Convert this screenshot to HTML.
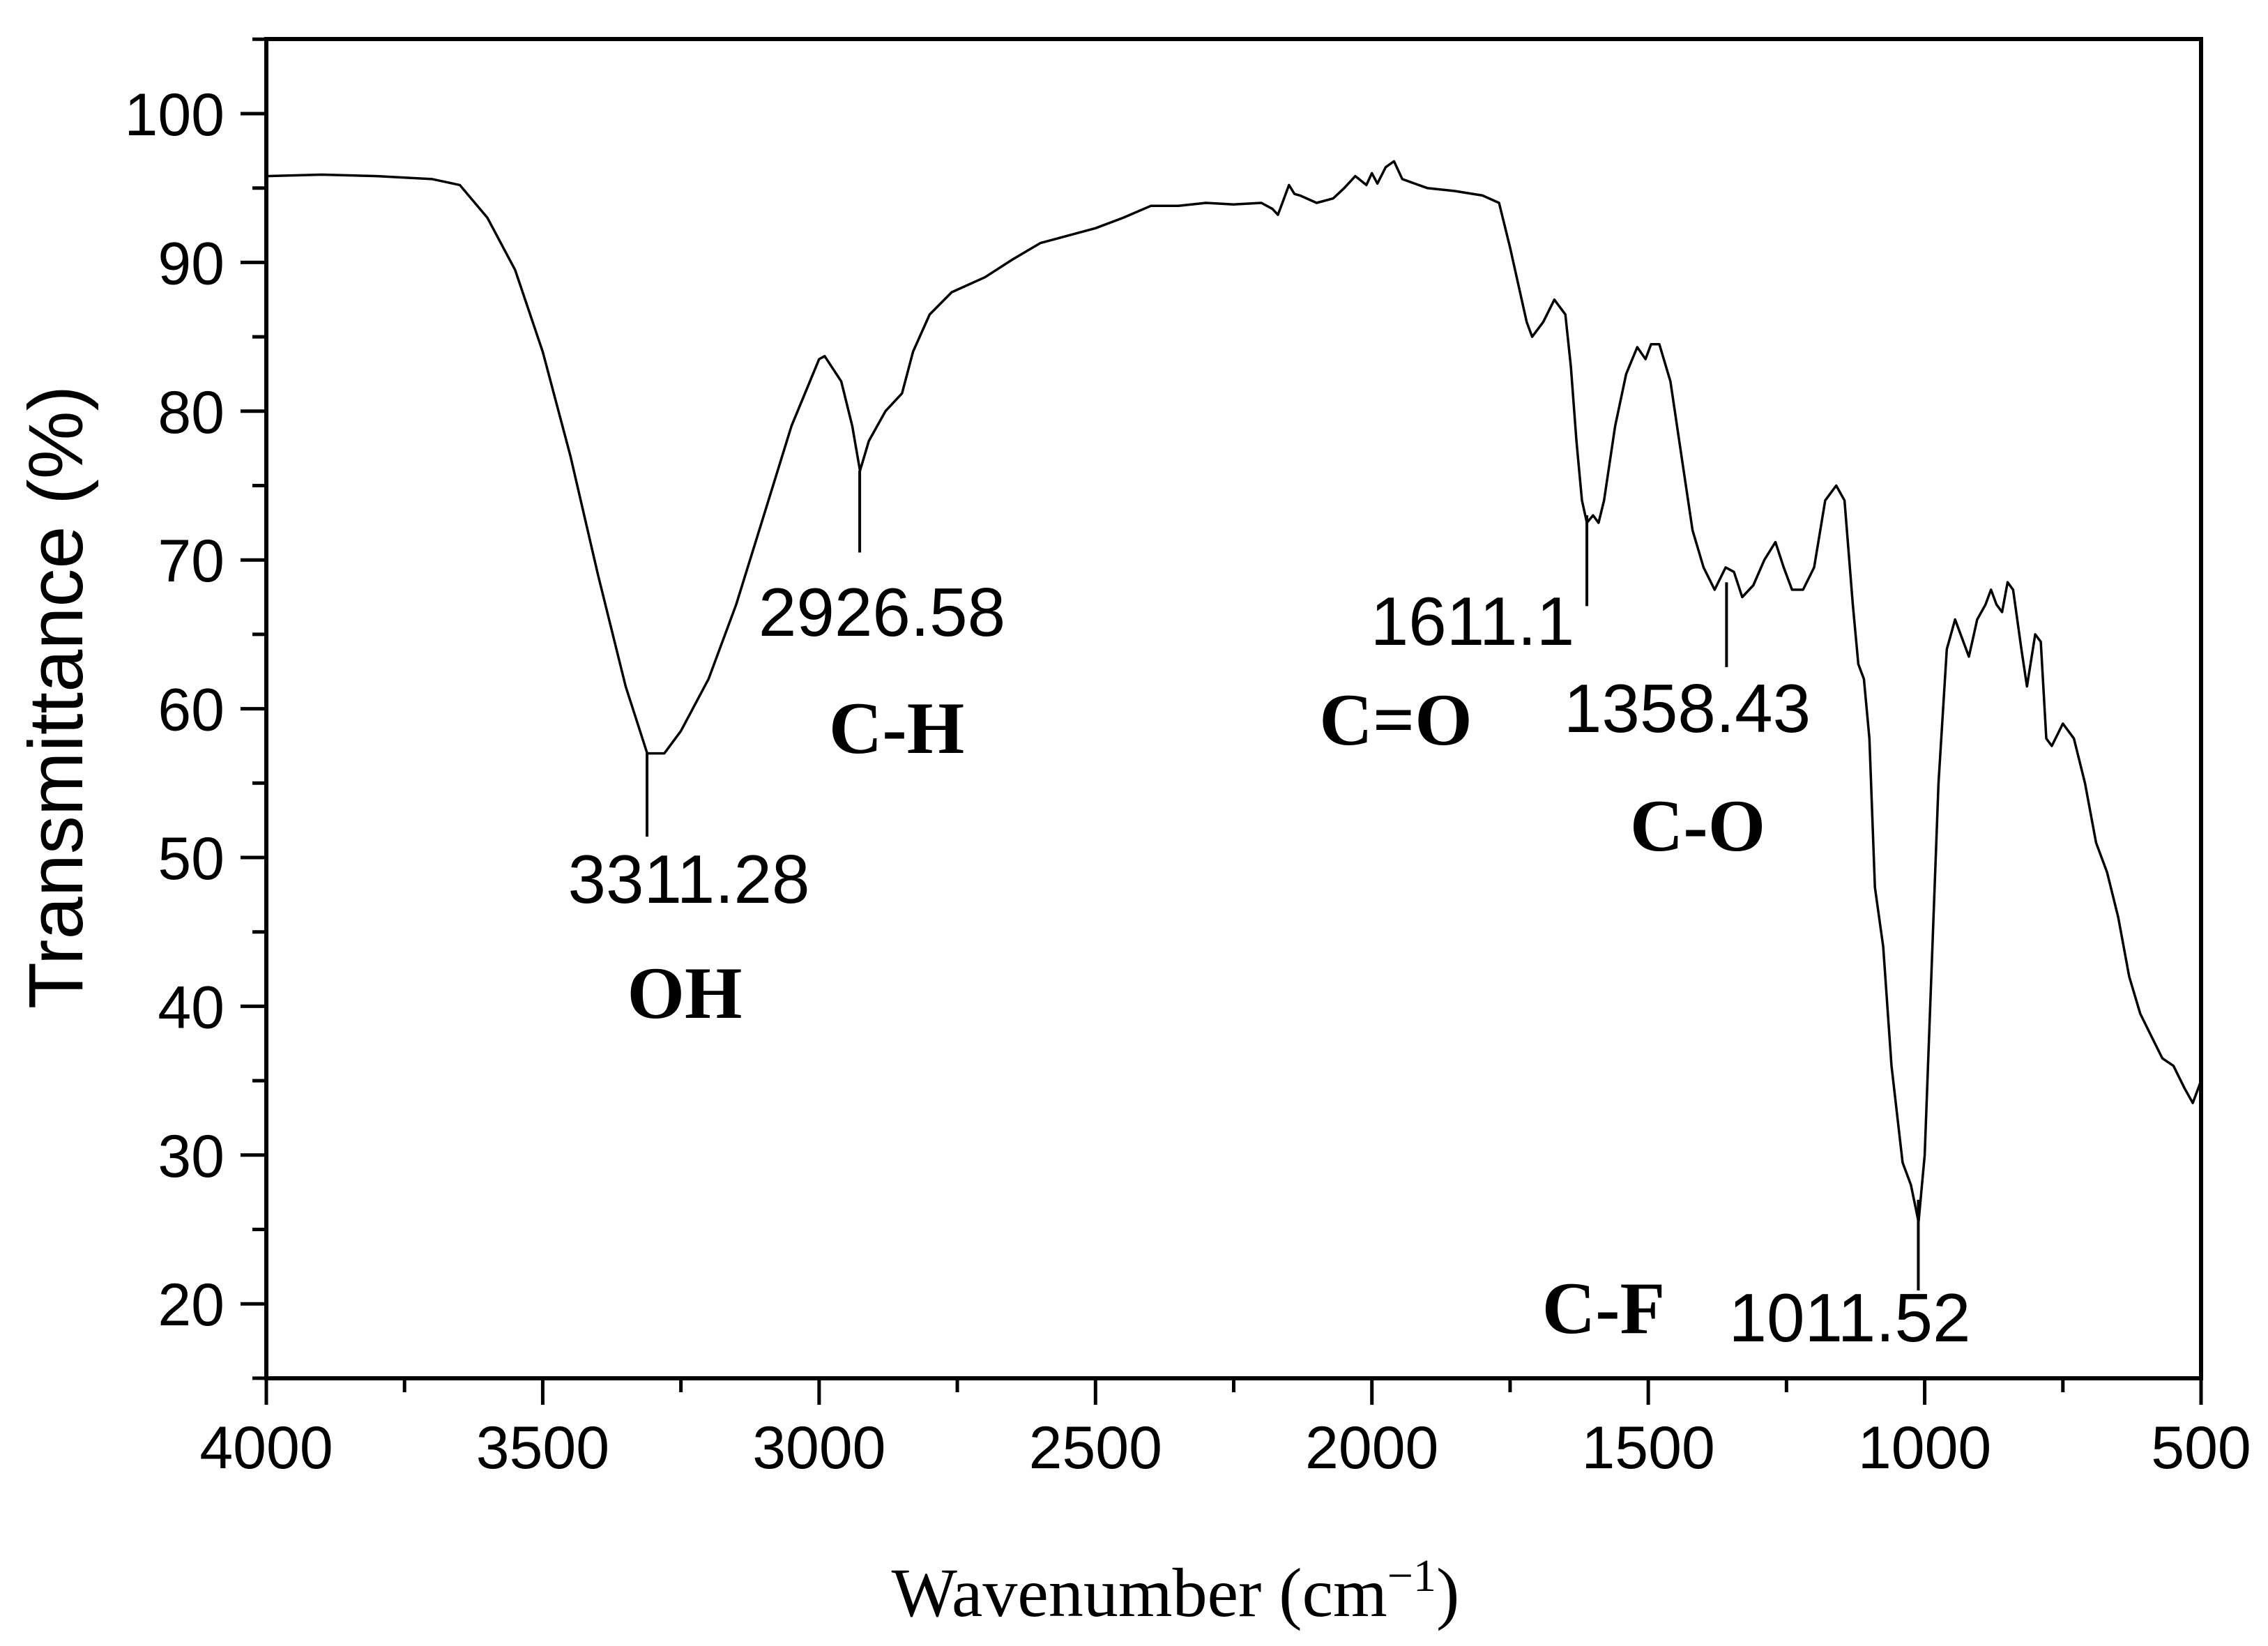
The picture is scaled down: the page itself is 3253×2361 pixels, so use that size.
<!DOCTYPE html>
<html><head><meta charset="utf-8"><style>
html,body{margin:0;padding:0;background:#fff;}
svg{display:block;}
.tick{font-family:"Liberation Sans",Arial,sans-serif;font-size:86px;fill:#000;}
.ann{font-family:"Liberation Sans",Arial,sans-serif;font-size:98px;fill:#000;}
.grp{font-family:"Liberation Serif","Times New Roman",serif;font-size:106px;font-weight:bold;fill:#000;}
</style></head><body>
<svg id="chart" width="3253" height="2361" viewBox="0 0 3253 2361" xmlns="http://www.w3.org/2000/svg">
<rect x="0" y="0" width="3253" height="2361" fill="#fff"/>
<g id="axes"></g>
<path id="spectrum" fill="none" stroke="#000" stroke-width="3.5" stroke-linejoin="round"/>
<g id="markers"></g>
<text x="0" y="0" transform="translate(118,1000) rotate(-90)" text-anchor="middle" font-family="Liberation Sans, Arial, sans-serif" font-size="110">Transmittance (%)</text>
<text x="1686" y="2318" text-anchor="middle" font-family="Liberation Serif, Times New Roman, serif" font-size="100">Wavenumber (cm<tspan dy="-36" font-size="66">−1</tspan><tspan dy="36">)</tspan></text>
</svg>
<script>
const wavenumbers=[4000,3900,3800,3700,3650,3600,3550,3500,3450,3400,3350,3311,3280,3250,3200,3150,3100,3050,3000,2990,2960,2940,2926,2910,2880,2850,2830,2800,2760,2700,2650,2600,2500,2450,2400,2350,2300,2250,2200,2180,2170,2160,2150,2140,2130,2100,2070,2050,2030,2010,2000,1990,1975,1960,1945,1930,1900,1850,1800,1770,1750,1720,1710,1690,1670,1650,1640,1630,1620,1611,1600,1590,1580,1560,1540,1520,1505,1495,1480,1460,1440,1420,1400,1380,1360,1345,1330,1310,1290,1270,1255,1240,1220,1200,1180,1160,1145,1130,1120,1110,1100,1090,1075,1060,1040,1025,1011,1000,990,975,960,945,935,920,905,890,880,870,860,850,840,825,815,800,790,780,770,750,730,710,690,670,650,630,610,590,570,550,530,515,500];
const transmittance=[95.8,95.9,95.8,95.6,95.2,93,89.5,84,77,69,61.5,57,57,58.5,62,67,73,79,83.5,83.7,82,79,76,78,80,81.2,84,86.5,88,89,90.2,91.3,92.3,93,93.8,93.8,94,93.9,94,93.6,93.2,94.2,95.2,94.6,94.5,94,94.3,95,95.8,95.2,96,95.3,96.4,96.8,95.6,95.4,95,94.8,94.5,94,91,86,85,86,87.5,86.5,83,78,74,72.5,73,72.5,74,79,82.5,84.3,83.5,84.5,84.5,82,77,72,69.5,68,69.5,69.2,67.5,68.3,70,71.2,69.5,68,68,69.5,74,75,74,67,63,62,58,48,44,36,29.5,28,25.5,30,40,55,64,66,65,63.5,66,67,68,67,66.5,68.5,68,64,61.5,65,64.5,58,57.5,59,58,55,51,49,46,42,39.5,38,36.5,36,34.5,33.5,35];
const yTicks=[20,30,40,50,60,70,80,90,100];
const xTicks=[4000,3500,3000,2500,2000,1500,1000,500];
const peakWn=[3311.28,2926.58,1611.1,1358.43,1011.52];
const peakTop=[57,76,73,68.5,27];
const peakBottom=[51.4,70.5,66.9,62.8,20.9];

const X0=382,X1=3157,YT=56,YB=1977;
const xs=w=>X0+(4000-w)*(X1-X0)/3500;
const ys=v=>163+(100-v)*21.34;
const NS="http://www.w3.org/2000/svg";
function mk(tag,attrs,parent){const e=document.createElementNS(NS,tag);for(const k in attrs)e.setAttribute(k,attrs[k]);parent.appendChild(e);return e;}
const axes=document.getElementById('axes');
const frame=mk('rect',{x:X0,y:YT,width:X1-X0,height:YB-YT,fill:'none',stroke:'#000','stroke-width':6},axes);


for(let v=15;v<=105;v+=5){
  if(ys(v)<YT||ys(v)>YB)continue;
  const major=v%10===0;
  const t=mk('line',{x1:X0-(major?37:20),x2:X0,y1:ys(v),y2:ys(v),stroke:'#000','stroke-width':5},axes);
  
  
}
yTicks.forEach(v=>{
  const t=mk('text',{x:X0-60,y:ys(v)+31,'text-anchor':'end',class:'tick'},axes);
  t.textContent=v;
  
  
});
for(let w=4000;w>=500;w-=250){
  const major=w%500===0;
  const t=mk('line',{x1:xs(w),x2:xs(w),y1:YB,y2:YB+(major?38:20),stroke:'#000','stroke-width':5},axes);
  
  
}
xTicks.forEach(w=>{
  const t=mk('text',{x:xs(w),y:2106,'text-anchor':'middle',class:'tick'},axes);
  t.textContent=w;
  
  
});
let d='';
wavenumbers.forEach((w,i)=>{d+=(i?'L':'M')+xs(w).toFixed(1)+' '+ys(transmittance[i]).toFixed(1);});
document.getElementById('spectrum').setAttribute('d',d);
const mg=document.getElementById('markers');
peakWn.forEach((w,i)=>{
  const l=mk('line',{x1:xs(w),x2:xs(w),y1:ys(peakTop[i]),y2:ys(peakBottom[i]),stroke:'#000','stroke-width':4},mg);
  
  
});
const anns=[["3311.28",988,1295,'ann'],["OH",982,1460,'grp'],["2926.58",1265,912,'ann'],["C-H",1286,1080,'grp'],["1611.1",2112,925,'ann'],["C=O",2002,1068,'grp'],["1358.43",2420,1050,'ann'],["C-O",2435,1220,'grp'],["C-F",2300,1912,'grp'],["1011.52",2653,1924,'ann']];
anns.forEach(a=>{
  const t=mk('text',{x:a[1],y:a[2],'text-anchor':'middle',class:a[3]},mg);
  t.textContent=a[0];
  
  
});
</script>
</body></html>
